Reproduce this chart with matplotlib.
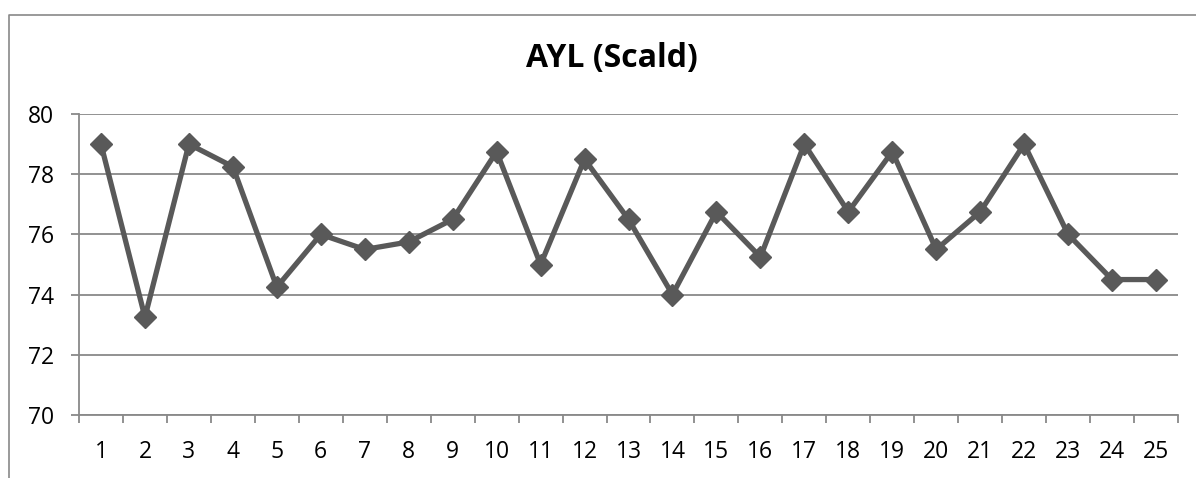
import numpy as np
import matplotlib.pyplot as plt
from matplotlib.lines import Line2D
from matplotlib.ticker import FixedLocator

plt.rcParams['font.family'] = ['Open Sans', 'DejaVu Sans']

# trial numbers and scald scores
trials = list(range(1, 26))
scores = [79, 73.25, 79, 78.25, 74.25, 76, 75.5, 75.75, 76.5, 78.75,
          75, 78.5, 76.5, 74, 76.75, 75.25, 79, 76.75, 78.75, 75.5,
          76.75, 79, 76, 74.5, 74.5]
y_ticks = [70, 72, 74, 76, 78, 80]

W, H = 1196, 478
fig = plt.figure(figsize=(W / 100, H / 100), dpi=100)
ax = fig.add_axes([79 / W, 1 - 415 / H, (1178 - 79) / W, (415 - 114) / H])

grid_c = '#898989'
ax.plot(trials, scores, color='#595959', lw=3.8, marker='D', ms=11.5,
        mfc='#595959', mec='#595959', zorder=3)

ax.set_xlim(0.5, 25.5)
ax.set_ylim(70, 80)
ax.set_yticks(y_ticks)
ax.set_xticks(trials)
ax.set_xticklabels([str(t) for t in trials])
ax.xaxis.set_minor_locator(FixedLocator(np.arange(0.5, 26, 1)))

ax.yaxis.grid(True, color=grid_c, lw=1.3)
ax.set_axisbelow(True)
for s in ['top', 'right']:
    ax.spines[s].set_visible(False)
for s in ['left', 'bottom']:
    ax.spines[s].set_color(grid_c)
    ax.spines[s].set_linewidth(1.3)

ax.tick_params(axis='x', which='major', length=0, pad=18, labelsize=16.5)
ax.tick_params(axis='x', which='minor', length=6, width=1.3, color=grid_c)
ax.tick_params(axis='y', length=6, width=1.3, color=grid_c, pad=12, labelsize=16.5)

fig.text(612 / W, 1 - 58 / H, 'AYL (Scald)', ha='center', va='center',
         fontsize=23, fontweight='bold')

# chart frame
fig.add_artist(Line2D([9 / W, 9 / W, 1.0], [0.0, 1 - 15 / H, 1 - 15 / H],
                      transform=fig.transFigure, color=grid_c, lw=1.2))

fig.savefig('out.png', dpi=100)
